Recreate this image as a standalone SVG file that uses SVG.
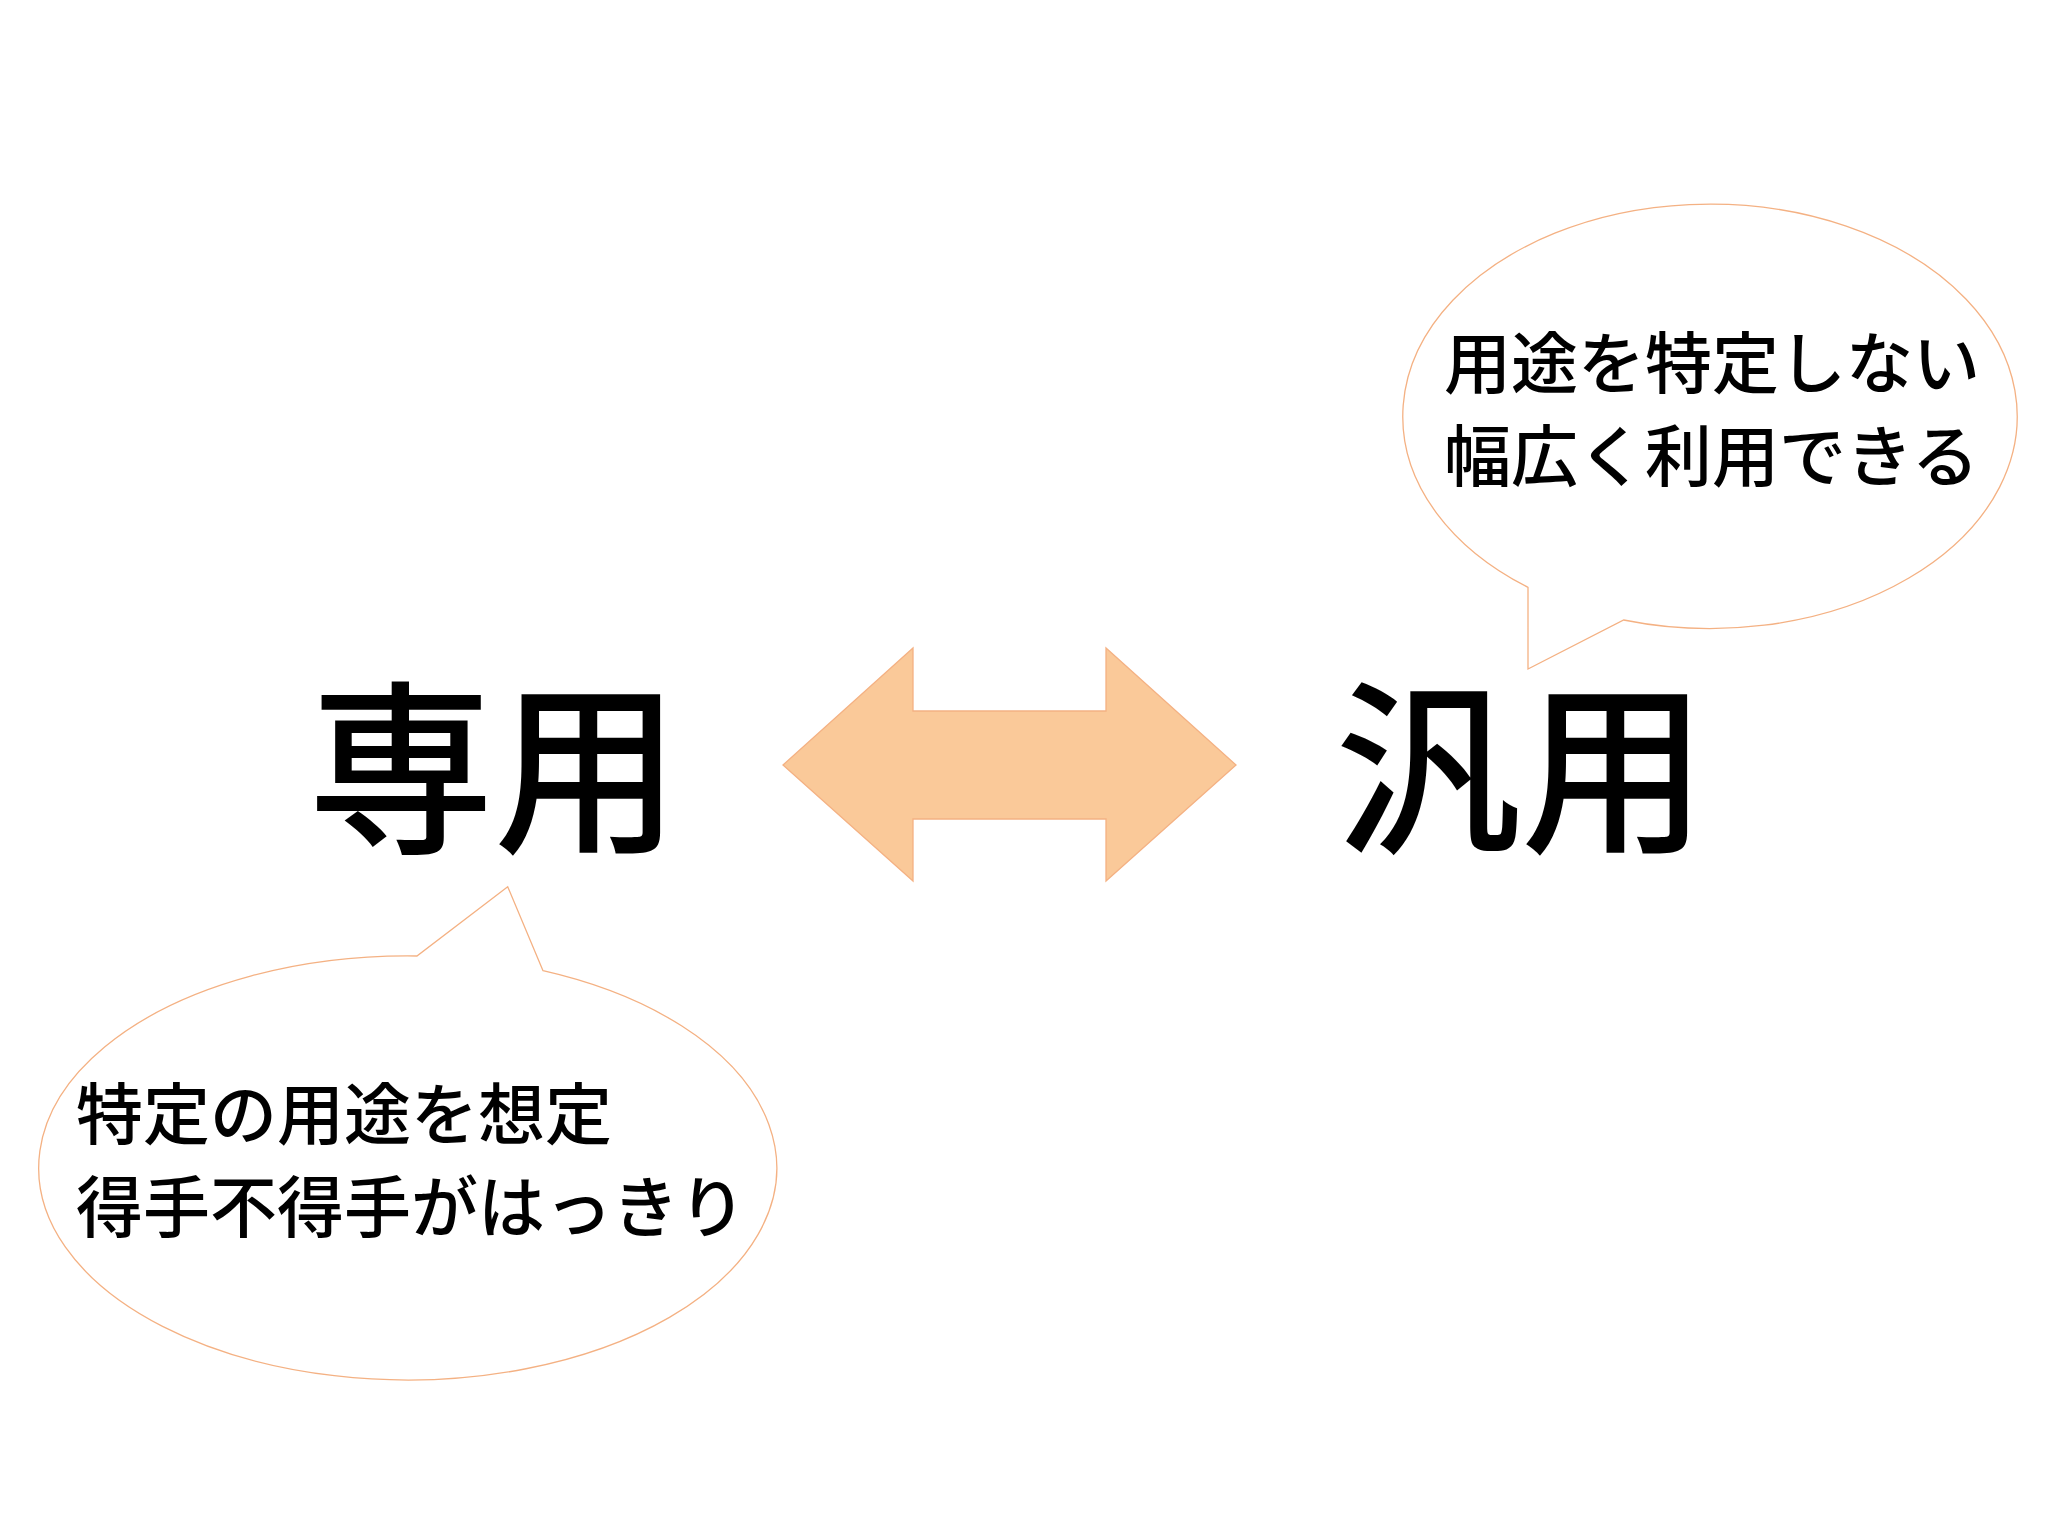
<svg xmlns="http://www.w3.org/2000/svg" width="2048" height="1535" viewBox="0 0 2048 1535">
<style>
.bubble{fill:#FFFFFF;stroke:#F4B183;stroke-width:1.3}
.big{font-family:"Noto Sans CJK JP","Noto Sans CJK SC",sans-serif;font-size:186px;font-weight:500;fill:#000}
.txt{font-family:"Noto Sans CJK JP","Noto Sans CJK SC",sans-serif;font-size:67px;font-weight:500;fill:#000}
.arrow{fill:#FAC999;stroke:#F4B183;stroke-width:1.3}
</style>
<rect width="2048" height="1535" fill="#FFFFFF"/>
<g id="node-senyou">
<text class="big" x="308" y="839">専用</text>
</g>
<g id="node-hanyou">
<text class="big" x="1335" y="839">汎用</text>
</g>
<g id="connectors">
<polygon class="arrow" points="783,765 913,648 913,711 1106,711 1106,648 1236,765 1106,881 1106,819 913,819 913,881"/>
</g>
<g id="bubble-hanyou">
<path class="bubble" d="M1528,587.3 A307.2,212.2 0 1 1 1623.7,620 L1528,669 Z"/>
<text class="txt" x="1444" y="388">用途を特定しない</text>
<text class="txt" x="1444" y="481">幅広く利用できる</text>
</g>
<g id="bubble-senyou">
<path class="bubble" d="M543,970.7 A369,212 0 1 1 416.9,956 L507.7,886.7 Z"/>
<text class="txt" x="76" y="1139">特定の用途を想定</text>
<text class="txt" x="76" y="1232">得手不得手がはっきり</text>
</g>
</svg>
